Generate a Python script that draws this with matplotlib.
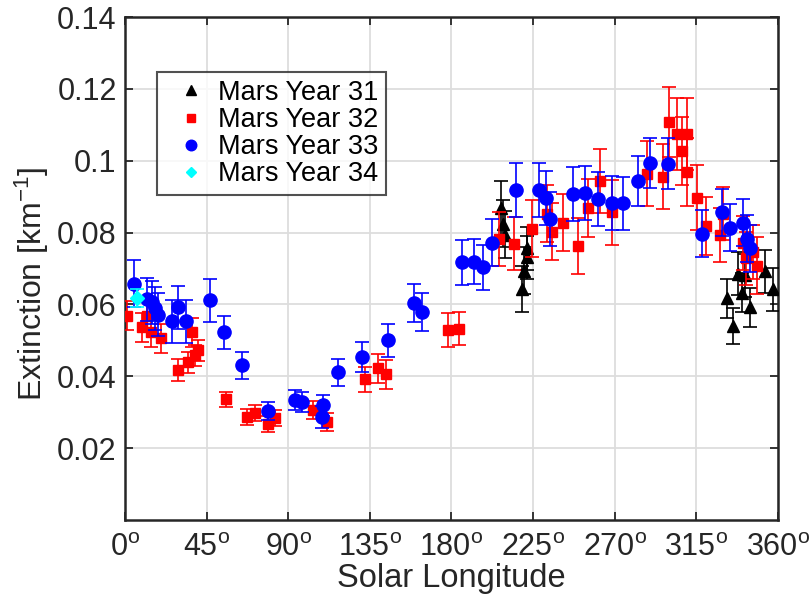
import matplotlib
matplotlib.use("Agg")
import matplotlib.pyplot as plt
from matplotlib.lines import Line2D

plt.rcParams['font.family'] = ['Liberation Sans', 'DejaVu Sans']
plt.rcParams['mathtext.fontset'] = 'custom'
plt.rcParams['mathtext.rm'] = 'Liberation Sans'
plt.rcParams['mathtext.it'] = 'Liberation Sans:italic'

# Mars Year 31 (black triangles)
my31_ls = [207.3, 208.4, 209.5, 221.6, 221.6, 220.0, 218.9,
           337.9, 341.8, 331.9, 340.1, 344.5, 335.2, 352.8, 357.2]
my31_val = [0.0869, 0.0825, 0.0794, 0.0756, 0.0731, 0.0694, 0.0644,
            0.0686, 0.0681, 0.0617, 0.0633, 0.0592, 0.0539, 0.0692, 0.0642]
my31_err = [0.0075, 0.0065, 0.0065, 0.006, 0.006, 0.0065, 0.0064,
            0.006, 0.006, 0.0055, 0.0055, 0.0055, 0.005, 0.006, 0.006]

# Mars Year 32 (red squares)
my32_ls = [1.1, 12.0, 9.4, 14.3, 19.8, 29.2, 34.7, 38.6, 40.2, 36.9,
           55.7, 67.3, 71.7, 78.8, 82.7, 103.6, 111.4, 132.3, 139.5, 143.9,
           178.0, 184.0, 206.0, 214.4, 224.4, 232.6, 235.4, 241.5, 249.7, 255.2,
           261.9, 268.5, 287.8, 296.6, 299.9, 304.3, 309.8, 307.0, 309.8, 315.3,
           320.3, 328.0, 329.7, 340.7, 346.2, 348.4, 342.3]
my32_val = [0.0569, 0.0567, 0.0536, 0.0522, 0.0506, 0.0417, 0.0439, 0.0458, 0.0472, 0.0522,
            0.0336, 0.0286, 0.0297, 0.0267, 0.0283, 0.0306, 0.0272, 0.0392, 0.0422, 0.0406,
            0.0528, 0.0533, 0.0781, 0.0769, 0.0811, 0.0853, 0.0803, 0.0828, 0.0764, 0.0869,
            0.0944, 0.0856, 0.0964, 0.0956, 0.1108, 0.1075, 0.1075, 0.1028, 0.0969, 0.0897,
            0.0819, 0.0794, 0.0853, 0.0772, 0.0747, 0.0708, 0.0728]
my32_err = [0.004, 0.004, 0.004, 0.004, 0.004, 0.003, 0.003, 0.003, 0.003, 0.004,
            0.0021, 0.0022, 0.0022, 0.0022, 0.0022, 0.0025, 0.0025, 0.0035, 0.004, 0.004,
            0.0047, 0.0047, 0.0075, 0.0074, 0.008, 0.008, 0.008, 0.008, 0.0078, 0.008,
            0.0089, 0.009, 0.009, 0.009, 0.0098, 0.01, 0.01, 0.0095, 0.0095, 0.009,
            0.008, 0.0075, 0.0075, 0.0075, 0.0075, 0.008, 0.0075]

# Mars Year 33 (blue circles)
my33_ls = [5.0, 12.1, 14.9, 16.5, 18.2, 25.9, 29.2, 33.6, 46.9, 54.6,
           64.5, 78.8, 93.7, 97.6, 109.2, 108.6, 117.4, 130.7, 145.0, 159.3,
           163.7, 185.8, 192.4, 197.4, 202.3, 215.5, 228.2, 232.1, 234.3, 247.0,
           253.6, 260.8, 268.5, 274.5, 282.8, 289.4, 299.3, 318.1, 329.1, 333.5,
           340.7, 342.9, 344.5]
my33_val = [0.0658, 0.0614, 0.0606, 0.0589, 0.0572, 0.0553, 0.0592, 0.0553, 0.0611, 0.0522,
            0.0431, 0.0303, 0.0333, 0.0328, 0.0319, 0.0286, 0.0411, 0.0453, 0.0500, 0.0603,
            0.0578, 0.0717, 0.0719, 0.0703, 0.0772, 0.0919, 0.0919, 0.0897, 0.0839, 0.0908,
            0.0911, 0.0894, 0.0883, 0.0881, 0.0944, 0.0994, 0.0992, 0.0797, 0.0856, 0.0814,
            0.0828, 0.0783, 0.0756]
my33_err = [0.0065, 0.006, 0.006, 0.006, 0.006, 0.006, 0.006, 0.006, 0.006, 0.0046,
            0.0038, 0.0025, 0.0028, 0.0028, 0.003, 0.003, 0.0037, 0.0042, 0.0046, 0.0053,
            0.0053, 0.0063, 0.0063, 0.0063, 0.0065, 0.0075, 0.0075, 0.0075, 0.0075, 0.0075,
            0.0075, 0.0075, 0.0075, 0.0075, 0.007, 0.007, 0.007, 0.0065, 0.0065, 0.0065,
            0.0065, 0.0065, 0.0065]

# Mars Year 34 (cyan diamond)
my34_ls = [6.6]
my34_val = [0.0617]
my34_err = [0.0025]

x_ticks = [0, 45, 90, 135, 180, 225, 270, 315, 360]
y_ticks = [0.02, 0.04, 0.06, 0.08, 0.10, 0.12, 0.14]
y_tick_labels = ['0.02', '0.04', '0.06', '0.08', '0.1', '0.12', '0.14']
legend_labels = ['Mars Year 31', 'Mars Year 32', 'Mars Year 33', 'Mars Year 34']

fig = plt.figure(figsize=(8.11, 6.10), dpi=100)
ax = fig.add_axes([0.1541, 0.1475, 0.8052, 0.8246])

series = [
    (my31_ls, my31_val, my31_err, 'k', '^', 9),
    (my32_ls, my32_val, my32_err, 'red', 's', 7.5),
    (my33_ls, my33_val, my33_err, 'blue', 'o', 9.5),
    (my34_ls, my34_val, my34_err, 'cyan', 'D', 7),
]
handles = []
for i, (xs, ys, es, c, m, ms) in enumerate(series):
    ax.errorbar(xs, ys, yerr=es, fmt=m, color=c, ecolor=c, markersize=ms,
                markeredgecolor=c, markerfacecolor=c, elinewidth=1.2,
                capsize=5, capthick=1.2, zorder=3 + i)
    handles.append(Line2D([], [], linestyle='none', marker=m, color=c,
                          markersize=ms * 0.8))

ax.set_xlim(0, 360)
ax.set_ylim(0, 0.14)
ax.set_xticks(x_ticks)
ax.set_xticklabels([r'$\mathrm{%d}^{\mathrm{o}}$' % t for t in x_ticks])
ax.set_yticks(y_ticks)
ax.set_yticklabels(y_tick_labels)

ax.grid(True, color='#dddddd', linewidth=1.3, zorder=0)
ax.set_axisbelow(True)
ax.tick_params(direction='in', top=True, right=True, length=6, width=1.3,
               labelsize=22, colors='#262626')
ax.tick_params(axis='y', pad=6)
ax.tick_params(axis='x', pad=9)
for sp in ax.spines.values():
    sp.set_linewidth(1.8)
    sp.set_color('#262626')

ax.set_xlabel('Solar Longitude', fontsize=23.5, color='#262626', labelpad=0)
ax.set_ylabel(r'Extinction [km$^{\mathrm{-1}}$]', fontsize=23, color='#262626')
ax.yaxis.set_label_coords(-0.114, 0.47)

leg = ax.legend(handles, legend_labels, loc='upper left',
                bbox_to_anchor=(0.049, 0.891), borderaxespad=0, fontsize=19.5,
                frameon=True, fancybox=False, labelspacing=0.04,
                handletextpad=0.05, handlelength=1.9, borderpad=0.3)
leg.get_frame().set_edgecolor('#262626')
leg.get_frame().set_linewidth(1.5)

fig.savefig('out.png', dpi=100)
